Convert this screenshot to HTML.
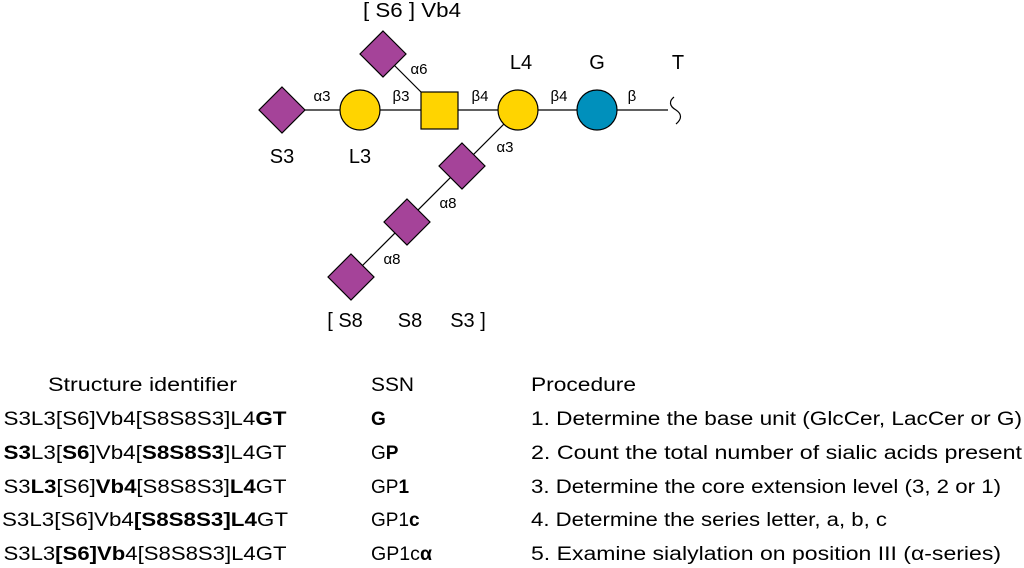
<!DOCTYPE html>
<html><head><meta charset="utf-8"><style>
html,body{margin:0;padding:0;background:#fff;}
svg{display:block;font-family:"Liberation Sans",Arial,sans-serif;}
.b{font-weight:bold}
</style></head><body>
<svg width="1024" height="568" viewBox="0 0 1024 568" xmlns="http://www.w3.org/2000/svg">
<g stroke="#000" stroke-width="1.2" fill="none">
<line x1="282" y1="110" x2="668" y2="110"/>
<line x1="383" y1="54" x2="421" y2="92"/>
<line x1="518" y1="110" x2="351" y2="277"/>
<path d="M674 97 C669 101 669 106 676 110 C682 114 682 119 676 124"/>
</g>
<g stroke="#000" stroke-width="1.2">
<polygon points="282,87 305,110 282,133 259,110" fill="#A54399"/>
<circle cx="360" cy="110" r="20" fill="#FFD400"/>
<rect x="421" y="92" width="37" height="37" fill="#FFD400"/>
<circle cx="518" cy="110" r="20" fill="#FFD400"/>
<circle cx="597" cy="110" r="20" fill="#0090BC"/>
<polygon points="383,31 406,54 383,77 360,54" fill="#A54399"/>
<polygon points="462,143 485,166 462,189 439,166" fill="#A54399"/>
<polygon points="407,199 430,222 407,245 384,222" fill="#A54399"/>
<polygon points="351,254 374,277 351,300 328,277" fill="#A54399"/>
</g>
<g font-size="15" text-anchor="middle" fill="#000">
<text x="322" y="101">α3</text>
<text x="401" y="101">β3</text>
<text x="480" y="101">β4</text>
<text x="559" y="101">β4</text>
<text x="632" y="101">β</text>
<text x="419" y="74">α6</text>
<text x="505" y="152">α3</text>
<text x="448" y="208">α8</text>
<text x="392" y="264">α8</text>
</g>
<g font-size="20" text-anchor="middle" fill="#000">
<text x="412" y="17" textLength="98" lengthAdjust="spacingAndGlyphs">[ S6 ] Vb4</text>
<text x="521" y="69">L4</text>
<text x="597" y="69">G</text>
<text x="678" y="69">T</text>
<text x="282" y="163">S3</text>
<text x="360" y="163">L3</text>
<text x="345" y="327">[ S8</text>
<text x="410" y="327">S8</text>
<text x="468" y="327">S3 ]</text>
</g>
<g font-size="19" fill="#000">
<text x="48" y="391" textLength="189" lengthAdjust="spacingAndGlyphs">Structure identifier</text>
<text x="371" y="391" textLength="43" lengthAdjust="spacingAndGlyphs">SSN</text>
<text x="531" y="391" textLength="105" lengthAdjust="spacingAndGlyphs">Procedure</text>

<text x="145" y="425" text-anchor="middle" textLength="283" lengthAdjust="spacingAndGlyphs">S3L3[S6]Vb4[S8S8S3]L4<tspan class="b">GT</tspan></text>
<text x="145" y="459" text-anchor="middle" textLength="283" lengthAdjust="spacingAndGlyphs"><tspan class="b">S3</tspan>L3[<tspan class="b">S6</tspan>]Vb4[<tspan class="b">S8S8S3</tspan>]L4GT</text>
<text x="145" y="493" text-anchor="middle" textLength="283" lengthAdjust="spacingAndGlyphs">S3<tspan class="b">L3</tspan>[S6]<tspan class="b">Vb4</tspan>[S8S8S3]<tspan class="b">L4</tspan>GT</text>
<text x="145" y="526" text-anchor="middle" textLength="286" lengthAdjust="spacingAndGlyphs">S3L3[S6]Vb4<tspan class="b">[S8S8S3]L4</tspan>GT</text>
<text x="145" y="560" text-anchor="middle" textLength="283" lengthAdjust="spacingAndGlyphs">S3L3<tspan class="b">[S6]Vb</tspan>4[S8S8S3]L4GT</text>

<text x="371" y="425" class="b">G</text>
<text x="371" y="459">G<tspan class="b">P</tspan></text>
<text x="371" y="493">GP<tspan class="b">1</tspan></text>
<text x="371" y="526">GP1<tspan class="b">c</tspan></text>
<text x="371" y="560" textLength="61" lengthAdjust="spacingAndGlyphs">GP1c<tspan class="b">α</tspan></text>

<text x="531" y="425" textLength="491" lengthAdjust="spacingAndGlyphs">1. Determine the base unit (GlcCer, LacCer or G)</text>
<text x="531" y="459" textLength="491" lengthAdjust="spacingAndGlyphs">2. Count the total number of sialic acids present</text>
<text x="531" y="493" textLength="470" lengthAdjust="spacingAndGlyphs">3. Determine the core extension level (3, 2 or 1)</text>
<text x="531" y="526" textLength="356" lengthAdjust="spacingAndGlyphs">4. Determine the series letter, a, b, c</text>
<text x="531" y="560" textLength="470" lengthAdjust="spacingAndGlyphs">5. Examine sialylation on position III (α-series)</text>
</g>
</svg>
</body></html>
